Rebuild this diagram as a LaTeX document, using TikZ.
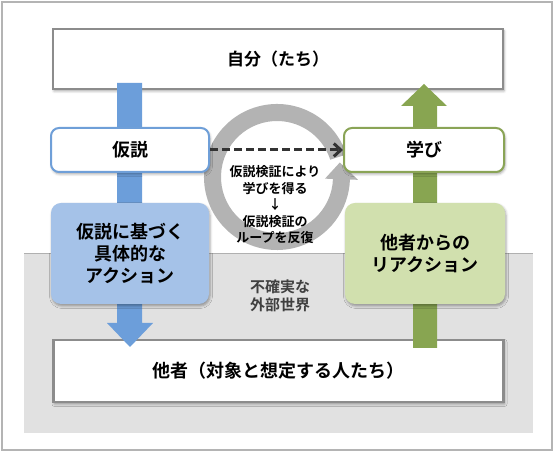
\documentclass[tikz,border=0pt]{standalone}
\usepackage{fontspec}
\setmainfont{Noto Sans CJK JP}[BoldFont={* Bold}]
\usetikzlibrary{arrows.meta,shadows.blur,calc}
\definecolor{framegray}{HTML}{B4B4B4}
\definecolor{worldgray}{HTML}{E1E1E1}
\definecolor{worldedge}{HTML}{B0B0B0}
\definecolor{boxgray}{HTML}{8C8C8C}
\definecolor{ringgray}{HTML}{B3B3B3}
\definecolor{blueline}{HTML}{6F9FD8}
\definecolor{bluefill}{HTML}{A5C2E8}
\definecolor{bluearrow}{HTML}{6C9EDA}
\definecolor{greenline}{HTML}{8AA456}
\definecolor{greenfill}{HTML}{D1E0AE}
\definecolor{greenarrow}{HTML}{88A551}
\definecolor{dashgray}{HTML}{333333}
\definecolor{worldtext}{HTML}{404040}
\begin{document}
\begin{tikzpicture}[x=1pt,y=1pt,
  softshadow/.style={blur shadow={shadow xshift=1pt, shadow yshift=-2pt, shadow blur radius=2.5pt, shadow opacity=35}},
  bigbox/.style={draw=boxgray, line width=2.5pt, fill=white, minimum width=450pt,
    inner sep=0pt, font=\fontsize{17}{20}\selectfont\bfseries, softshadow},
  smallbox/.style={fill=white, line width=2pt, rounded corners=8pt, minimum width=158pt,
    minimum height=44pt, inner sep=0pt, font=\fontsize{18}{21}\selectfont\bfseries, softshadow},
  fillbox/.style={rounded corners=10pt, minimum width=158pt, minimum height=101pt,
    inner sep=0pt, align=center, font=\fontsize{18}{22}\selectfont\bfseries, softshadow},
  looptext/.style={align=center, inner sep=0pt, font=\fontsize{13}{16.5}\selectfont\bfseries},
  worldlabel/.style={align=center, inner sep=0pt, text=worldtext, font=\fontsize{15}{18}\selectfont\bfseries},
  dasharrow/.style={draw=dashgray, line width=3pt, dash pattern=on 8pt off 4pt,
    -{Straight Barb[length=7pt,width=13pt]}}
]
\useasboundingbox (0,0) rectangle (555,452);
% outer frame
\draw[framegray, line width=1.3pt] (2,2) rectangle (552,450);
% uncertain outer world
\fill[worldgray] (24,19) rectangle (533,199);
\draw[worldedge, line width=0.8pt] (24,199) -- (533,199);
\node[worldlabel] (world) at (280,156) {不確実な\\外部世界};
% top and bottom boxes
\node[bigbox, minimum height=60pt] (self) at (278,393) {自分（たち）};
\node[bigbox, minimum height=62pt, font=\fontsize{18}{21}\selectfont\bfseries] (others) at (278.5,81) {他者（対象と想定する人たち）};
% circular arrow
\coordinate (rc) at (277,275);
\fill[ringgray] ($(rc)+(18:73pt)$) arc[start angle=18,end angle=358,radius=73pt]
  -- ($(rc)+(358:81pt)$) -- ($(rc)+(13:64.5pt)$) -- ($(rc)+(358:48pt)$)
  -- ($(rc)+(358:56pt)$) arc[start angle=358,end angle=18,radius=56pt] -- cycle;
% fat arrows
\coordinate (bS) at (129.5,369);
\coordinate (bE) at (130,105);
\fill[bluearrow] ($(bS)+(-12.5,0)$) -- ($(bS)+(12.5,0)$) -- ($(bE)+(12,24)$) -- ($(bE)+(23,24)$)
  -- (bE) -- ($(bE)+(-23,24)$) -- ($(bE)+(-13,24)$) -- cycle;
\coordinate (gS) at (425,104);
\coordinate (gE) at (424,368);
\fill[greenarrow] ($(gS)+(-12,0)$) -- ($(gS)+(12,0)$) -- ($(gE)+(13,-22)$) -- ($(gE)+(23,-22)$)
  -- (gE) -- ($(gE)+(-23,-22)$) -- ($(gE)+(-11,-22)$) -- cycle;
% middle boxes
\node[smallbox, draw=blueline] (hyp) at (130,302) {仮説};
\node[smallbox, draw=greenline, minimum width=160pt] (learn) at (424,302) {学び};
\node[fillbox, fill=bluefill] (action) at (130,198.5) {仮説に基づく\\具体的な\\アクション};
\node[fillbox, fill=greenfill, minimum width=160pt] (reaction) at (425,198.5) {他者からの\\リアクション};
% loop text
\node[looptext] (loop) at (275,247) {仮説検証により\\学びを得る\\↓\\仮説検証の\\ループを反復};
% dashed arrow
\draw[dasharrow] (hyp.east) -- (learn.west);
\end{tikzpicture}
\end{document}
